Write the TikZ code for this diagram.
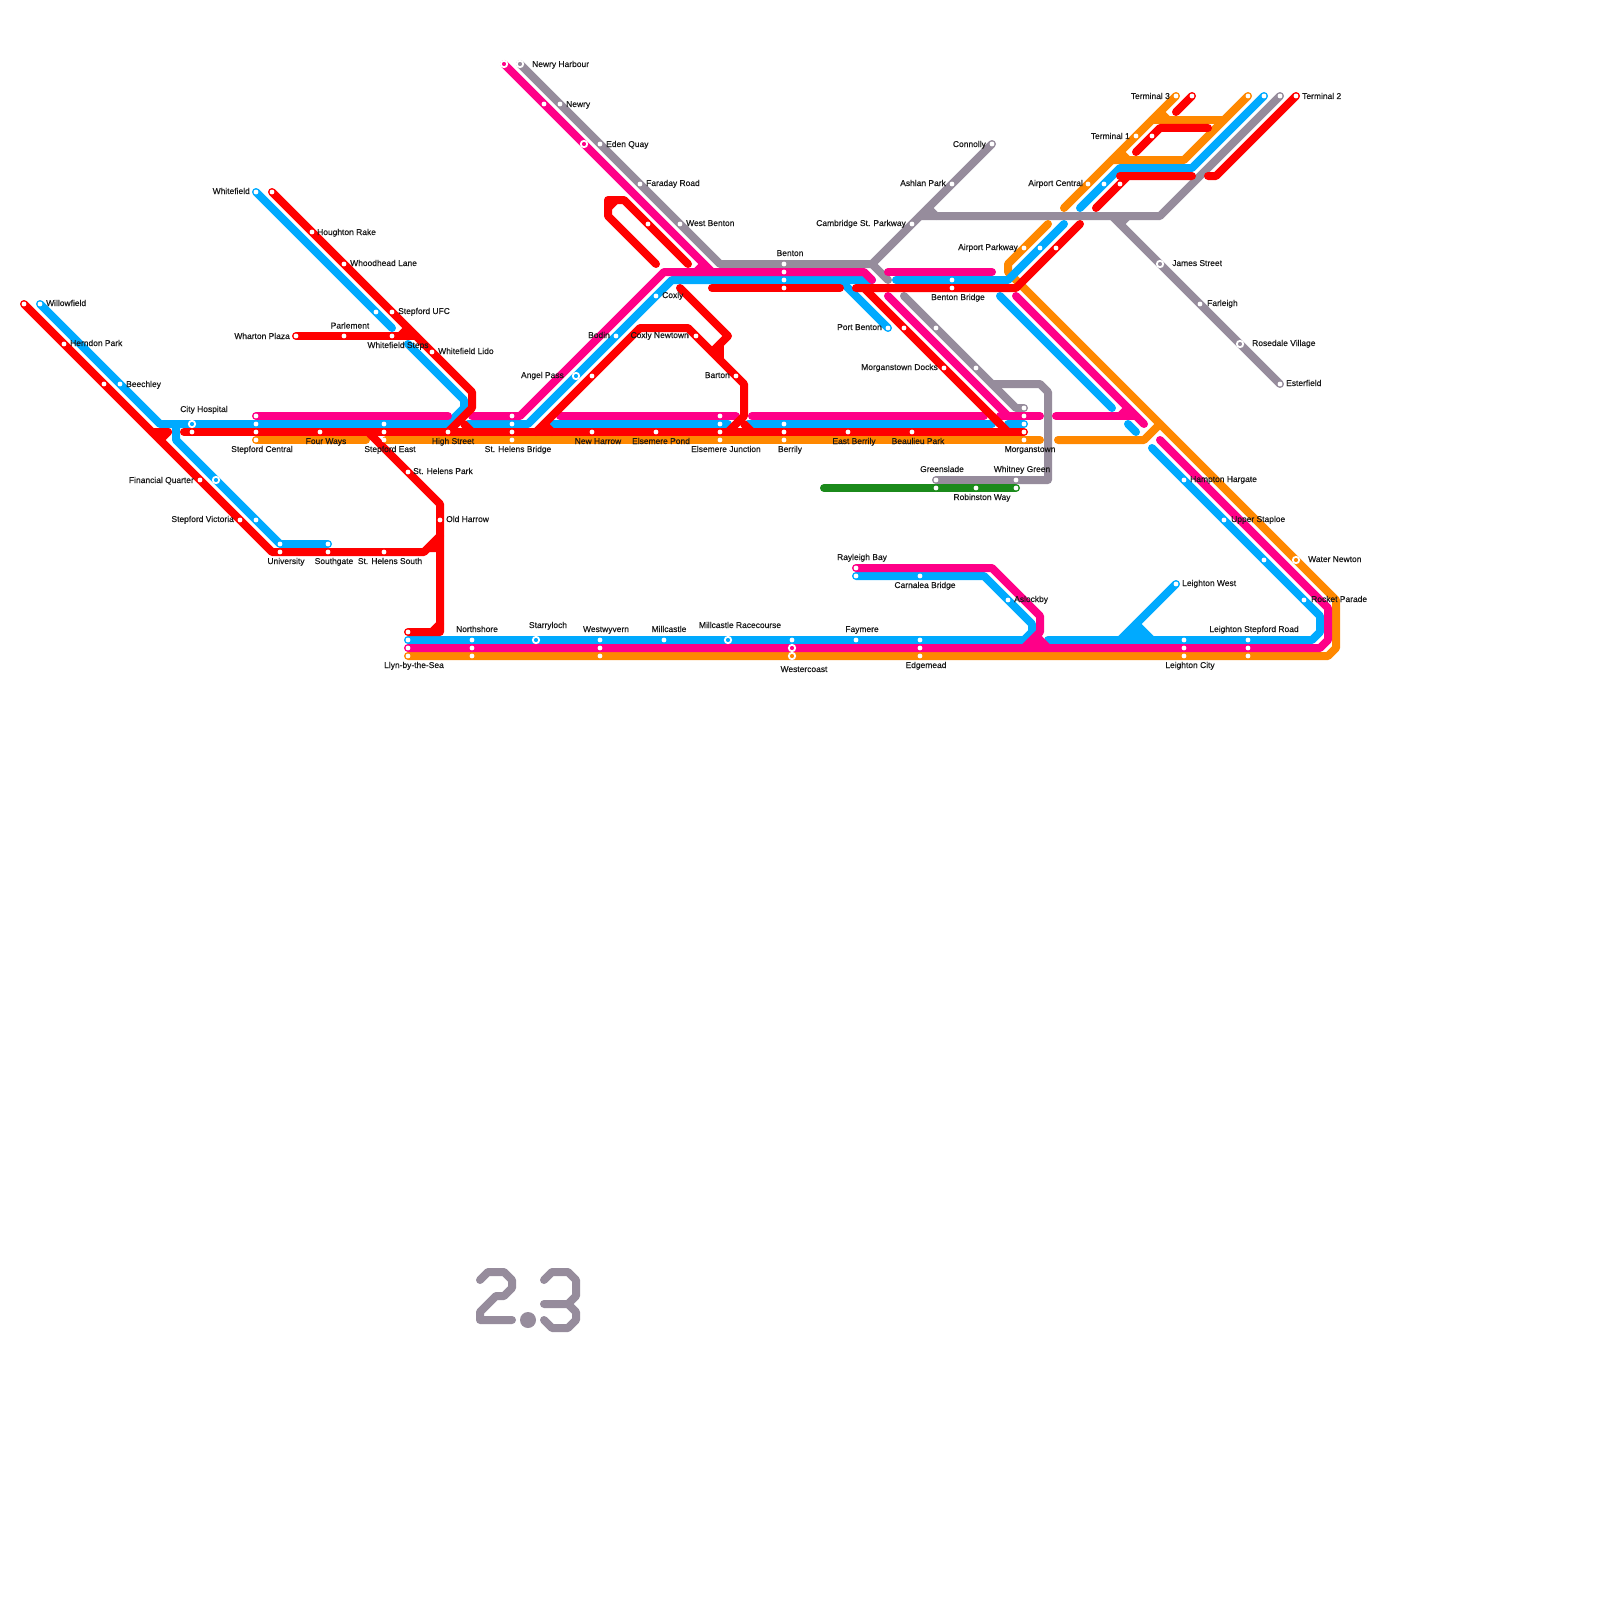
\documentclass[tikz,border=0pt]{standalone}
\usepackage{fontspec}
\setmainfont{Liberation Sans}
\newfontfamily\lblfont[FakeBold=0.35]{Liberation Sans}
\definecolor{lred}{HTML}{FF0000}
\definecolor{lblue}{HTML}{00AAFF}
\definecolor{lpink}{HTML}{FF0088}
\definecolor{lorange}{HTML}{FF8800}
\definecolor{lgray}{HTML}{968C9C}
\definecolor{lgreen}{HTML}{1B8A1B}
\tikzset{
  route/.style={line width=8pt,line cap=round,line join=round},
  rred/.style={route,draw=lred},
  rblue/.style={route,draw=lblue},
  rpink/.style={route,draw=lpink},
  rorange/.style={route,draw=lorange},
  rgray/.style={route,draw=lgray},
  rgreen/.style={route,draw=lgreen},
  halt/.style={circle,fill=white,inner sep=0pt,minimum size=4.8pt},
  inter/.style={circle,draw=white,line width=1.8pt,inner sep=0pt,minimum size=6.4pt,fill=#1},
  lbl/.style={inner sep=0pt,text height=6.5pt,text depth=0.5pt,font=\lblfont\fontsize{8.45}{10}\selectfont,text=black!90},
}
\begin{document}
\begin{tikzpicture}[x=1pt,y=-1pt]
\useasboundingbox (0,0) rectangle (1600,1600);
\fill[white] (0,0) rectangle (1600,1600);
% gray
\draw[rgray] (520,64) -- (720,264) -- (872,264);
\draw[rgray] (872,264) -- (992,144);
\draw[rgray] (920,216) -- (1160,216) -- (1280,96);
\draw[rgray] (928,208) -- (936,216);
\draw[rgray] (1112,216) -- (1280,384);
\draw[rgray] (1120,224) -- (1128,216);
\draw[rgray] (904,296) -- (1016,408) -- (1024,408);
\draw[rgray] (992,384) -- (1040,384) -- (1048,392) -- (1048,480) -- (936,480);
% orange
\draw[rorange] (256,440) -- (366,440);
\draw[rorange] (386,440) -- (1040,440);
\draw[rorange] (1058,440) -- (1144,440) -- (1160,424);
\draw[rorange] (1048,224) -- (1008,264) -- (1008,272) -- (1336,600) -- (1336,648) -- (1328,656) -- (408,656);
\draw[rorange] (1064,208) -- (1176,96);
\draw[rorange] (1112,160) -- (1184,160) -- (1248,96);
\draw[rorange] (1152,120) -- (1224,120);
\draw[rorange] (1160,112) -- (1168,120);
\draw[rorange] (1120,152) -- (1128,160);
% blue
\draw[rblue] (40,304) -- (160,424) -- (448,424) -- (464,408) -- (464,400) -- (408,344);
\draw[rblue] (176,424) -- (176,440) -- (280,544) -- (328,544);
\draw[rblue] (256,192) -- (392,328);
\draw[rblue] (468,424) -- (528,424) -- (672,280) -- (872,280);
\draw[rblue] (840,280) -- (888,328);
\draw[rblue] (552,424) -- (728,424);
\draw[rblue] (748,424) -- (992,424);
\draw[rblue] (1008,424) -- (1024,424);
\draw[rblue] (896,280) -- (1008,280) -- (1064,224);
\draw[rblue] (1080,208) -- (1120,168) -- (1192,168) -- (1264,96);
\draw[rblue] (1000,296) -- (1112,408);
\draw[rblue] (1128,424) -- (1136,432);
\draw[rblue] (1152,448) -- (1320,616) -- (1320,632) -- (1312,640) -- (1048,640);
\draw[rblue] (856,576) -- (984,576) -- (1032,624) -- (1032,632) -- (1024,640) -- (408,640);
\fill[lblue] (1117,640) -- (1136,621) -- (1155,640) -- cycle;
\draw[rblue] (1120,640) -- (1176,584);
\draw[rblue] (1136,624) -- (1152,640);
% gray stub above the blue
\draw[rgray] (872,264) -- (888,280);
% pink
\draw[rpink] (256,416) -- (448,416);
\draw[rpink] (472,416) -- (520,416) -- (664,272) -- (864,272) -- (872,280);
\draw[rpink] (504,64) -- (712,272);
\draw[rpink] (696,272) -- (704,264);
\draw[rpink] (560,416) -- (736,416);
\draw[rpink] (752,416) -- (984,416);
\draw[rpink] (888,272) -- (992,272);
\draw[rpink] (888,296) -- (1008,416);
\draw[rpink] (1000,416) -- (1040,416);
\draw[rpink] (1016,296) -- (1144,424);
\draw[rpink] (1056,416) -- (1136,416);
\draw[rpink] (1120,416) -- (1128,408);
\draw[rpink] (1160,440) -- (1328,608) -- (1328,640) -- (1320,648) -- (408,648);
\draw[rpink] (856,568) -- (992,568) -- (1040,616) -- (1040,632) -- (1024,648);
\draw[rpink] (1040,640) -- (1048,648);
\fill[lpink] (1024,648) -- (1040,632) -- (1048,648) -- cycle;
% green
\draw[rgreen] (824,488) -- (1016,488);
% red
\draw[rred] (24,304) -- (272,552) -- (424,552) -- (440,536);
\fill[lred] (424,552) -- (440,536) -- (440,552) -- cycle;
\draw[rred] (152,432) -- (168,432);
\draw[rred] (160,440) -- (168,432);
\draw[rred] (184,432) -- (1024,432);
\draw[rred] (368,432) -- (440,504) -- (440,632) -- (408,632);
\draw[rred] (432,632) -- (440,624);
\draw[rred] (272,192) -- (472,392) -- (472,408) -- (448,432);
\draw[rred] (464,424) -- (472,432);
\draw[rred] (296,336) -- (416,336);
\draw[rred] (400,336) -- (408,328);
\draw[rred] (536,432) -- (640,328) -- (688,328) -- (744,384) -- (744,416) -- (728,432);
\draw[rred] (544,424) -- (552,432);
\draw[rred] (744,424) -- (752,432);
\draw[rred] (680,288) -- (728,336) -- (712,352);
\draw[rred] (720,344) -- (720,360);
\draw[rred] (656,264) -- (608,216) -- (608,200) -- (624,200) -- (688,264);
\draw[rred] (608,208) -- (616,200);
\draw[rred] (712,288) -- (840,288);
\draw[rred] (856,288) -- (1016,288) -- (1080,224);
\draw[rred] (864,288) -- (1008,432);
\draw[rred] (992,416) -- (1000,424);
\draw[rred] (1096,208) -- (1128,176) -- (1192,176);
\draw[rred] (1120,176) -- (1128,176);
\draw[rred] (1208,176) -- (1216,176) -- (1296,96);
\draw[rred] (1136,152) -- (1160,128) -- (1208,128);
\draw[rred] (1176,112) -- (1192,96);
% plain stops
\foreach \x/\y [count=\i] in {
 24/304,64/344,104/384,200/480,240/520,280/552,328/552,384/552,
 40/304,120/384,256/520,280/544,328/544,
 272/192,312/232,344/264,392/312,432/352,376/312,256/192,
 296/336,344/336,392/336,
 256/416,256/424,256/432,256/440,192/432,320/432,
 384/424,384/432,384/440,448/432,
 512/416,512/424,512/432,512/440,592/432,656/432,
 720/416,720/424,720/432,720/440,784/424,784/432,784/440,848/432,912/432,
 1024/408,1024/416,1024/424,1024/432,1024/440,
 408/472,440/520,
 544/104,560/104,600/144,640/184,680/224,648/224,
 784/264,784/272,784/280,784/288,
 656/296,616/336,592/376,696/336,736/376,
 888/328,904/328,944/368,936/328,976/368,
 952/280,952/288,912/224,952/184,992/144,
 1024/248,1040/248,1056/248,1088/184,1104/184,1120/184,1136/136,1152/136,
 1176/96,1192/96,1248/96,1264/96,1280/96,1296/96,
 1200/304,1280/384,
 936/480,1016/480,936/488,976/488,1016/488,
 1184/480,1224/520,1264/560,1304/600,1176/584,
 856/568,856/576,920/576,1008/600,
 408/632,408/640,408/648,408/656,472/640,472/648,472/656,
 600/640,600/648,600/656,664/640,792/640,856/640,
 920/640,920/648,920/656,1184/640,1184/648,1184/656,1248/640,1248/648,1248/656}
 {\node[halt] (h\i) at (\x,\y) {};}
% interchanges
\foreach \x/\y/\c [count=\i] in {
 192/424/lblue,216/480/lblue,576/376/lblue,536/640/lblue,728/640/lblue,
 584/144/lpink,504/64/lpink,520/64/lgray,792/648/lpink,792/656/lorange,
 1296/560/lorange,1160/264/lgray,1240/344/lgray}
 {\node[inter=\c] (x\i) at (\x,\y) {};}
% labels
\foreach \a/\x/\y/\t [count=\i] in {
 west/46/303/Willowfield,west/70/343/Herndon Park,west/126/384/Beechley,
 center/204/409/City Hospital,center/262/449/Stepford Central,center/326/441/Four Ways,
 center/390/449/Stepford East,center/453/441/High Street,center/518/449/St. Helens Bridge,
 west/413/471/St. Helens Park,center/598/441/New Harrow,center/661/441/Elsemere Pond,
 center/726/449/Elsemere Junction,center/790/449/Berrily,center/854/441/East Berrily,
 center/918/441/Beaulieu Park,center/1030/449/Morganstown,center/942/469/Greenslade,
 center/1022/469/Whitney Green,center/982/497/Robinston Way,west/446/519/Old Harrow,
 east/194/480/Financial Quarter,east/234/519/Stepford Victoria,center/286/561/University,
 center/334/561/Southgate,center/390/561/St. Helens South,east/290/336/Wharton Plaza,
 center/350/325.5/Parlement,center/398/345/Whitefield Steps,west/398/311/Stepford UFC,
 west/438/351/Whitefield Lido,west/350/263/Whoodhead Lane,west/317/232/Houghton Rake,
 east/250/191/Whitefield,west/532/64/Newry Harbour,west/566/104/Newry,west/606/144/Eden Quay,
 west/646/183/Faraday Road,west/686/223/West Benton,center/790/253/Benton,
 east/906/223/Cambridge St. Parkway,east/946/183/Ashlan Park,east/986/144/Connolly,
 west/662/295/Coxly,east/610/335/Bodin,east/689/335/Coxly Newtown,east/564/375/Angel Pass,
 east/730/375/Barton,east/882/327/Port Benton,east/938/367/Morganstown Docks,
 center/958/297/Benton Bridge,east/1018/247/Airport Parkway,east/1083/183/Airport Central,
 east/1130/136/Terminal 1,east/1170/96/Terminal 3,west/1302/96/Terminal 2,
 west/1172/263/James Street,west/1207/303/Farleigh,west/1252/343/Rosedale Village,
 west/1286/383/Esterfield,west/1190/479/Hampton Hargate,west/1231/519/Upper Staploe,
 west/1308/559/Water Newton,west/1311/599/Rocket Parade,west/1182/583/Leighton West,
 center/1254/629/Leighton Stepford Road,center/1190/665/Leighton City,west/1014/599/Aslockby,
 center/862/557/Rayleigh Bay,center/925/585/Carnalea Bridge,center/862/629/Faymere,
 center/926/665/Edgemead,center/804/669/Westercoast,center/740/625/Millcastle Racecourse,
 center/669/629/Millcastle,center/606/629/Westwyvern,center/548/625/Starryloch,
 center/477/629/Northshore,center/414/665/Llyn-by-the-Sea}
 {\node[lbl,anchor=\a] (l\i) at (\x,\y) {\t};}
% version mark
\draw[rgray] (480,1280) -- (488,1272) -- (504,1272) -- (512,1280) -- (512,1288) -- (504,1296) -- (496,1296) -- (480,1312) -- (480,1320) -- (512,1320);
\fill[lgray] (528,1320) circle (8);
\draw[rgray] (544,1280) -- (552,1272) -- (568,1272) -- (576,1280) -- (576,1296) -- (568,1304) -- (544,1304);
\draw[rgray] (568,1304) -- (576,1312) -- (576,1320) -- (568,1328) -- (552,1328) -- (544,1320);
\end{tikzpicture}
\end{document}
